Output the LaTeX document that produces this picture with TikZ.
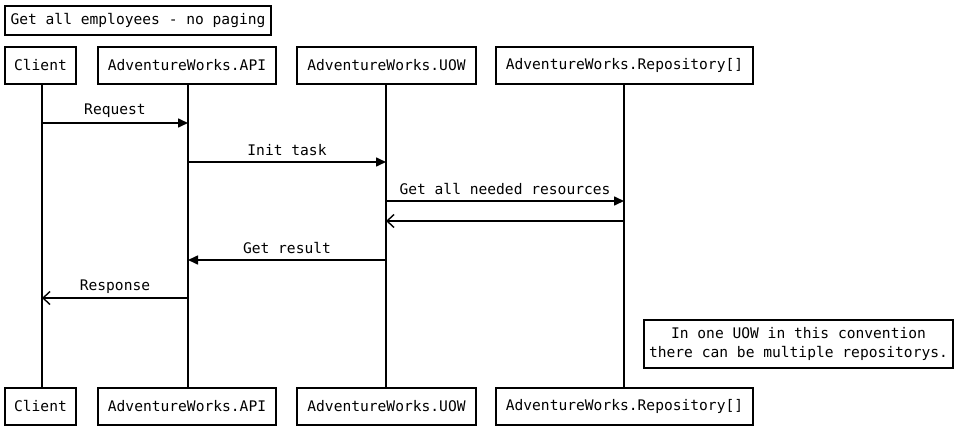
\documentclass[tikz,border=0pt]{standalone}
\usepackage{fontspec}
\setmonofont{DejaVu Sans Mono}
\usetikzlibrary{arrows.meta}
\begin{document}
\begin{tikzpicture}[x=1pt,y=-1pt,
  box/.style={draw,line width=1.6pt,inner sep=0pt,minimum height=37pt,font=\ttfamily\fontsize{14.6}{17}\selectfont},
  life/.style={line width=1.6pt},
  msg/.style={line width=1.6pt,-{Triangle[length=10pt,width=9pt]}},
  ret/.style={line width=1.6pt,-{Straight Barb[length=7pt,width=13pt,line width=1.4pt]}},
  lbl/.style={font=\ttfamily\fontsize{14.6}{17}\selectfont,inner sep=0pt}]
\useasboundingbox (0,0) rectangle (958,433);
\node[box,minimum width=266pt,minimum height=29pt] (title) at (138,20.5) {Get all employees - no paging};
\node[box,minimum width=71pt] (c1) at (40.5,65.5) {Client};
\node[box,minimum width=178pt] (a1) at (187,65.5) {AdventureWorks.API};
\node[box,minimum width=179pt] (u1) at (386.5,65.5) {AdventureWorks.UOW};
\node[box,minimum width=257pt] (r1) at (624.5,65.5) {AdventureWorks.Repository[]};
\node[box,minimum width=71pt] (c2) at (40.5,406.5) {Client};
\node[box,minimum width=178pt] (a2) at (187,406.5) {AdventureWorks.API};
\node[box,minimum width=179pt] (u2) at (386.5,406.5) {AdventureWorks.UOW};
\node[box,minimum width=257pt] (r2) at (624.5,406.5) {AdventureWorks.Repository[]};
\coordinate (cT) at (42,84); \coordinate (cB) at (42,388);
\coordinate (aT) at (188,84); \coordinate (aB) at (188,388);
\coordinate (uT) at (386,84); \coordinate (uB) at (386,388);
\coordinate (rT) at (624,84); \coordinate (rB) at (624,388);
\draw[life] (cT) -- (cB);
\draw[life] (aT) -- (aB);
\draw[life] (uT) -- (uB);
\draw[life] (rT) -- (rB);
% messages
\coordinate (m1s) at (42,123); \coordinate (m1e) at (188,123);
\coordinate (m2s) at (188,162); \coordinate (m2e) at (386,162);
\coordinate (m3s) at (386,201); \coordinate (m3e) at (624,201);
\coordinate (m4s) at (624,221); \coordinate (m4e) at (386,221);
\coordinate (m5s) at (386,260); \coordinate (m5e) at (188,260);
\coordinate (m6s) at (188,298); \coordinate (m6e) at (42,298);
\draw[msg] (m1s) -- (m1e);
\draw[msg] (m2s) -- (m2e);
\draw[msg] (m3s) -- (m3e);
\draw[ret] (m4s) -- (m4e);
\draw[msg] (m5s) -- (m5e);
\draw[ret] (m6s) -- (m6e);
\node[lbl] (l1) at (115,111) {Request};
\node[lbl] (l2) at (287,150) {Init task};
\node[lbl] (l3) at (505,189) {Get all needed resources};
\node[lbl] (l5) at (287,248) {Get result};
\node[lbl] (l6) at (115,287) {Response};
\node[box,minimum width=309pt,minimum height=48pt,align=center,font=\ttfamily\fontsize{14.6}{19}\selectfont] (note) at (798.5,344) {In one UOW in this convention\\there can be multiple repositorys.};
\end{tikzpicture}
\end{document}
